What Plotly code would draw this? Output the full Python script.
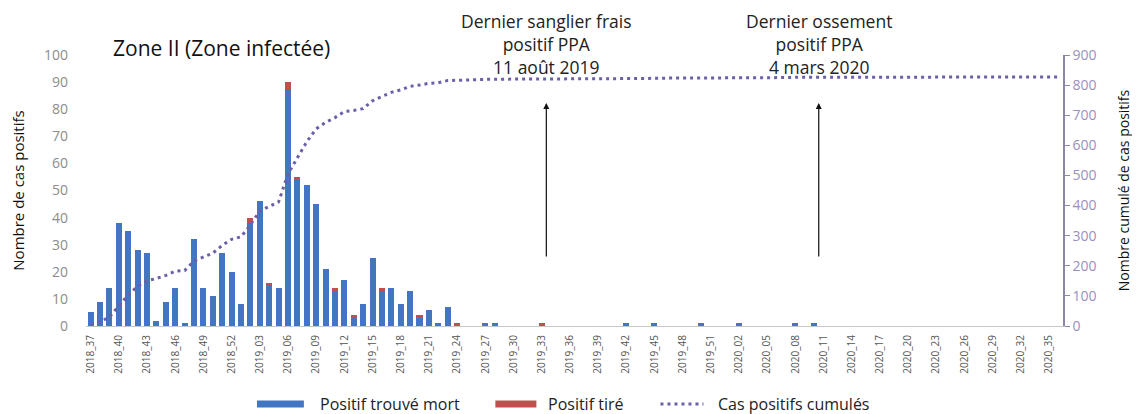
import plotly.graph_objects as go

# Week categories (tick labels every 3 weeks)
weeks = ([f"2018_{w}" for w in range(37, 53)]
         + [f"2019_{w:02d}" for w in range(1, 53)]
         + [f"2020_{w:02d}" for w in range(1, 37)])
tick_weeks = weeks[::3]

# Positif trouvé mort (blue) per week
trouve_mort = [
    5, 9, 14, 38, 35, 28, 27, 2, 9, 14, 1, 32, 14, 11, 27, 20,          # 2018_37..2018_52
    8, 38, 46, 15, 14, 87, 54, 52, 45, 21, 13, 17, 3, 8, 25, 13,         # 2019_01..2019_16
    14, 8, 13, 3, 6, 1, 7, 0, 0, 0, 1, 1, 0, 0, 0, 0,                    # 2019_17..2019_32
    0, 0, 0, 0, 0, 0, 0, 0, 0, 1, 0, 0, 1, 0, 0, 0,                      # 2019_33..2019_48
    0, 1, 0, 0, 0, 1, 0, 0, 0, 0, 0, 1, 0, 1, 0, 0,                      # 2019_49..2020_12
    0, 0, 0, 0, 0, 0, 0, 0, 0, 0, 0, 0, 0, 0, 0, 0,                      # 2020_13..2020_28
    0, 0, 0, 0, 0, 0, 0, 0,                                              # 2020_29..2020_36
]

# Positif tiré (red) per week
tire = [
    0, 0, 0, 0, 0, 0, 0, 0, 0, 0, 0, 0, 0, 0, 0, 0,
    0, 2, 0, 1, 0, 3, 1, 0, 0, 0, 1, 0, 1, 0, 0, 1,
    0, 0, 0, 1, 0, 0, 0, 1, 0, 0, 0, 0, 0, 0, 0, 0,
    1, 0, 0, 0, 0, 0, 0, 0, 0, 0, 0, 0, 0, 0, 0, 0,
    0, 0, 0, 0, 0, 0, 0, 0, 0, 0, 0, 0, 0, 0, 0, 0,
    0, 0, 0, 0, 0, 0, 0, 0, 0, 0, 0, 0, 0, 0, 0, 0,
    0, 0, 0, 0, 0, 0, 0, 0,
]

# Cas positifs cumulés (right axis)
cumules = [
    5, 14, 30, 68, 104, 132, 150, 158, 168, 182, 184, 216, 230, 242, 268, 288,
    296, 336, 382, 398, 412, 505, 560, 612, 655, 676, 692, 712, 716, 722, 748, 762,
    776, 784, 796, 800, 806, 808, 815, 816, 816, 818, 819, 820, 820, 820, 820, 820,
    821, 821, 821, 821, 821, 821, 821, 821, 821, 822, 822, 822, 823, 823, 823, 823,
    823, 824, 824, 824, 824, 825, 825, 825, 825, 825, 825, 826, 826, 827, 827, 827,
    827, 827, 827, 827, 827, 827, 827, 827, 827, 827, 827, 827, 827, 827, 827, 827,
    827, 827, 827, 827, 827, 827, 827, 827,
]

# Annotated events
event_weeks = ["2019_33", "2020_10"]
event_texts = ["Dernier sanglier frais<br>positif PPA<br>11 août 2019",
               "Dernier ossement<br>positif PPA<br>4 mars 2020"]

# Series names / colours
names = ["Positif trouvé mort", "Positif tiré", "Cas positifs cumulés"]
BLUE, RED, PURPLE = "#4275c2", "#c0504d", "#6c5fa8"

FONT = "'Open Sans', Lato, sans-serif"

fig = go.Figure()
fig.add_bar(x=weeks, y=trouve_mort, name=names[0],
            marker=dict(color=BLUE, line=dict(width=0)))
fig.add_bar(x=weeks, y=tire, name=names[1],
            marker=dict(color=RED, line=dict(width=0)))
fig.add_scatter(x=weeks, y=cumules, yaxis="y2", mode="lines", name=names[2],
                line=dict(color=PURPLE, dash="3px,4px", width=3))

annotations = [
    dict(text="Zone II (Zone infectée)", xref="paper", yref="paper",
         x=0.026, y=1.026, xanchor="left", yanchor="middle", showarrow=False,
         font=dict(size=21, color="#111111", family=FONT)),
]
for wk, txt in zip(event_weeks, event_texts):
    xpos = weeks.index(wk) + 0.5   # arrow sits at the end of the event week
    annotations.append(dict(text=txt, x=xpos, y=1.04, xref="x", yref="paper",
                            showarrow=False, xanchor="center", yanchor="middle",
                            font=dict(size=17.5, color="#222222", family=FONT)))
    annotations.append(dict(text="", x=xpos, y=82.3, xref="x", yref="y",
                            showarrow=True, ax=0, ay=155, arrowhead=2,
                            arrowsize=1, arrowwidth=1.2, arrowcolor="#111111"))

# Custom legend (wide swatches like the original)
leg_y = -0.288
shapes = [
    dict(type="rect", xref="paper", yref="paper", x0=0.175, x1=0.223,
         y0=leg_y - 0.013, y1=leg_y + 0.013, fillcolor=BLUE, line=dict(width=0)),
    dict(type="rect", xref="paper", yref="paper", x0=0.419, x1=0.461,
         y0=leg_y - 0.013, y1=leg_y + 0.013, fillcolor=RED, line=dict(width=0)),
    dict(type="line", xref="paper", yref="paper", x0=0.588, x1=0.632,
         y0=leg_y, y1=leg_y, line=dict(color=PURPLE, width=3, dash="3px,4px")),
]
for xpos, nm in zip([0.2375, 0.471, 0.645], names):
    annotations.append(dict(text=nm, xref="paper", yref="paper", x=xpos, y=leg_y,
                            xanchor="left", yanchor="middle", showarrow=False,
                            font=dict(size=16, color="#222222", family=FONT)))

# The page body has an 8px margin: size the figure so it fills the 1140x414 window
fig.update_layout(
    width=1132, height=406,
    margin=dict(l=78, r=77, t=47, b=88, autoexpand=False),
    paper_bgcolor="white", plot_bgcolor="white",
    barmode="stack", bargap=0.36,
    font=dict(family=FONT, color="#222222"),
    showlegend=False,
    annotations=annotations,
    shapes=shapes,
    xaxis=dict(type="category", categoryorder="array", categoryarray=weeks,
               tickmode="array", tickvals=tick_weeks, ticktext=tick_weeks,
               tickangle=-90, tickfont=dict(size=10, color="#555555"),
               showline=True, linecolor="#c8c8c8", linewidth=1,
               ticks="", showgrid=False, range=[-0.5, 103.5],
               automargin=False, ticklabelstandoff=4),
    yaxis=dict(range=[0, 100], dtick=10, showgrid=False, zeroline=False,
               showline=False, ticks="", tickfont=dict(size=14, color="#8c8c8c"),
               ticklabelstandoff=17, automargin=False,
               title=dict(text="Nombre de cas positifs", standoff=18,
                          font=dict(size=15, color="#111111"))),
    yaxis2=dict(overlaying="y", side="right", range=[0, 900], dtick=100,
                showgrid=False, zeroline=False, showline=True,
                linecolor="#8e84ad", linewidth=1.5, ticks="outside", ticklen=5,
                tickcolor="#8e84ad", tickfont=dict(size=14, color="#9a8fbf"),
                automargin=False,
                title=dict(text="Nombre cumulé de cas positifs", standoff=24,
                           font=dict(size=14, color="#111111"))),
)

fig.write_html("out.html")
